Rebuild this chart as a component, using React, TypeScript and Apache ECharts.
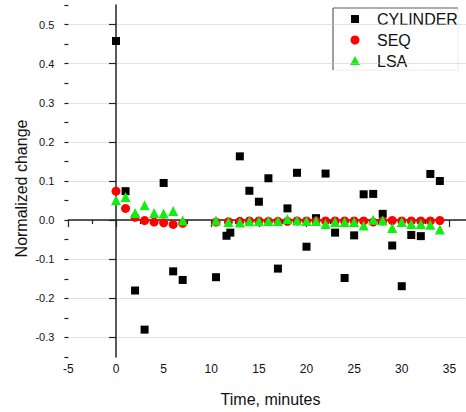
import React, { useEffect, useRef } from "react";
import * as echarts from "echarts";

const cylX = [0, 1, 2, 3, 5, 6, 7, 10.5, 11.6, 12, 13, 14, 15, 16, 17, 18, 19, 20, 21, 22, 23, 24, 25, 26, 27, 28, 29, 30, 31, 32, 33, 34];
const cylY = [0.458, 0.074, -0.18, -0.28, 0.095, -0.131, -0.153, -0.146, -0.04, -0.032, 0.163, 0.075, 0.047, 0.107, -0.124, 0.03, 0.121, -0.068, 0.005, 0.119, -0.032, -0.148, -0.039, 0.066, 0.067, 0.016, -0.065, -0.169, -0.038, -0.041, 0.118, 0.1];

const fitX = [0, 1, 2, 3, 4, 5, 6, 7, 10.5, 11.8, 13, 14, 15, 16, 17, 18, 19, 20, 21, 22, 23, 24, 25, 26, 27, 28, 29, 30, 31, 32, 33, 34];
const seqY = [0.074, 0.03, 0.007, -0.001, -0.005, -0.007, -0.011, -0.008, -0.005, -0.004, -0.003, -0.002, -0.002, -0.003, -0.003, -0.003, -0.002, -0.002, -0.002, -0.002, -0.002, -0.002, -0.002, -0.002, -0.005, -0.002, -0.001, -0.002, -0.002, -0.002, -0.002, -0.001];
const lsaY = [0.051, 0.059, 0.018, 0.038, 0.018, 0.017, 0.023, -0.001, -0.001, -0.005, -0.006, -0.003, -0.003, -0.002, -0.002, 0.003, -0.001, -0.002, -0.002, -0.01, -0.005, -0.005, -0.005, -0.014, 0.001, -0.001, -0.02, -0.005, -0.01, -0.01, -0.012, -0.024];

const xTicks = { min: -5, max: 40, interval: 5 };
const yRange = { min: -0.35, max: 0.55 };

const seriesNames = ["CYLINDER", "SEQ", "LSA"];
const FONT = "'Liberation Sans', Arial, sans-serif";

function zip(xs: number[], ys: number[]) {
  return xs.map((x, i) => [x, ys[i]]);
}

export default function App() {
  const ref = useRef<HTMLDivElement>(null);
  useEffect(() => {
    if (!ref.current) return;
    const chart = echarts.init(ref.current, null, { renderer: "svg" });
    const lx = 355;
    const tx = 377;
    const rows = [19, 40, 61];
    chart.setOption({
      animation: false,
      backgroundColor: "#ffffff",
      grid: { left: 68.4, right: 0, top: 5, bottom: 55, containLabel: false },
      xAxis: {
        type: "value",
        min: xTicks.min,
        max: xTicks.max,
        interval: xTicks.interval,
        axisLine: { show: true, lineStyle: { color: "#222", width: 1.5 } },
        axisTick: { show: true, length: 7, lineStyle: { color: "#222", width: 1.2 } },
        minorTick: { show: true, splitNumber: 2, length: 4, lineStyle: { color: "#222", width: 1.2 } },
        axisLabel: { margin: 6, fontSize: 12, color: "#111", fontFamily: FONT, showMaxLabel: false },
        splitLine: { show: false },
      },
      yAxis: [
        {
          type: "value",
          min: yRange.min,
          max: yRange.max,
          splitNumber: 9,
          axisLine: { show: true, lineStyle: { color: "#222", width: 1.5 } },
          axisTick: { show: true, length: 7, lineStyle: { color: "#222", width: 1.2 } },
          axisLabel: {
            margin: 14,
            fontSize: 11,
            color: "#111",
            fontFamily: FONT,
            showMinLabel: false,
            showMaxLabel: false,
            formatter: (v: number) => v.toFixed(1),
          },
          splitLine: {
            show: true,
            showMinLine: false,
            showMaxLine: false,
            lineStyle: { color: "#c4c4c4", type: "dotted", width: 1 },
          },
        },
        {
          type: "value",
          min: yRange.min,
          max: yRange.max,
          interval: 0.05,
          position: "left",
          axisLine: { show: false },
          axisTick: { show: true, length: 4, lineStyle: { color: "#222", width: 1.2 } },
          axisLabel: { show: false },
          splitLine: { show: false },
        },
      ],
      series: [
        {
          name: seriesNames[0],
          type: "scatter",
          symbol: "rect",
          symbolSize: 8,
          itemStyle: { color: "#000000", opacity: 1 },
          data: zip(cylX, cylY),
        },
        {
          name: seriesNames[1],
          type: "scatter",
          symbol: "circle",
          symbolSize: 9,
          itemStyle: { color: "#ff0000", opacity: 1 },
          data: zip(fitX, seqY),
        },
        {
          name: seriesNames[2],
          type: "scatter",
          symbol: "triangle",
          symbolSize: 10,
          itemStyle: { color: "#11ee11", opacity: 1 },
          data: zip(fitX, lsaY),
        },
      ],
      graphic: [
        {
          type: "text",
          x: 270.5,
          y: 399,
          style: {
            text: "Time, minutes",
            font: `16px ${FONT}`,
            fill: "#111",
            textAlign: "center",
            textVerticalAlign: "middle",
          },
        },
        {
          type: "text",
          x: 21,
          y: 188.5,
          rotation: Math.PI / 2,
          style: {
            text: "Normalized change",
            font: `16px ${FONT}`,
            fill: "#111",
            textAlign: "center",
            textVerticalAlign: "middle",
          },
        },
        {
          type: "group",
          z: 100,
          children: [
            { type: "rect", shape: { x: 333, y: 8, width: 125, height: 62 }, style: { fill: "#fff", stroke: "#ececec", lineWidth: 1 } },
            { type: "line", shape: { x1: 333, y1: 8, x2: 458, y2: 8 }, style: { stroke: "#666", lineWidth: 1.2 } },
            { type: "line", shape: { x1: 333, y1: 8, x2: 333, y2: 70 }, style: { stroke: "#666", lineWidth: 1.2 } },
            { type: "rect", shape: { x: lx - 4, y: rows[0] - 4, width: 8, height: 8 }, style: { fill: "#000" } },
            { type: "circle", shape: { cx: lx, cy: rows[1], r: 4.5 }, style: { fill: "#ff0000" } },
            { type: "polygon", shape: { points: [[lx, rows[2] - 5], [lx + 5, rows[2] + 4], [lx - 5, rows[2] + 4]] }, style: { fill: "#11ee11" } },
            ...seriesNames.map((n, i) => ({
              type: "text",
              x: tx,
              y: rows[i],
              style: { text: n, font: `16px ${FONT}`, fill: "#111", textAlign: "left", textVerticalAlign: "middle" },
            })),
          ],
        },
      ],
    });
    return () => chart.dispose();
  }, []);
  return (
    <div style={{ position: "absolute", left: 0, top: 0, width: 466, height: 412, overflow: "hidden" }}>
      <div ref={ref} style={{ width: 497, height: 412 }} />
    </div>
  );
}
